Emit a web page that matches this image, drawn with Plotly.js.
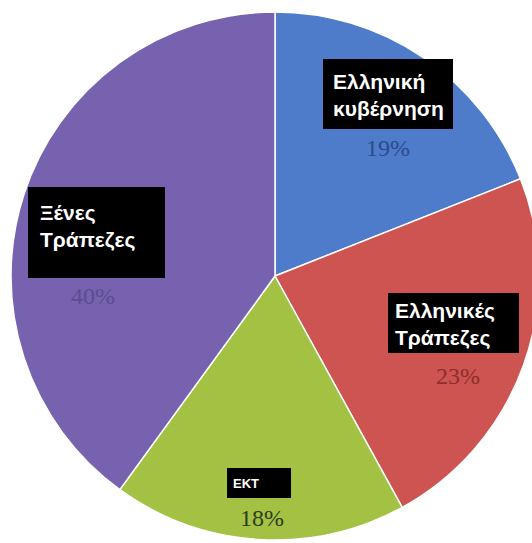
<!DOCTYPE html>
<html>
<head>
<meta charset="utf-8">
<script src="https://cdn.plot.ly/plotly-3.0.1.min.js"></script>
<style>
html,body{margin:0;padding:0;overflow:hidden;background:#fff;}
#chart{width:550px;height:543px;}
</style>
</head>
<body>
<div id="chart"></div>
<script>
var categories = ["Ελληνική<br>κυβέρνηση", "Ελληνικές<br>Τράπεζες", "ΕΚΤ", "Ξένες<br>Τράπεζες"];
var values = [19, 23, 18, 40];
var percentLabels = ["19%", "23%", "18%", "40%"];
var sliceColors = ["#4e7ccb", "#cd5450", "#a3c244", "#7662ae"];
var percentColors = ["#2c4a8c", "#8e2e2c", "#2f3b1c", "#5b4e8e"];

var W = 550, H = 543;
function px(x){ return x / W; }
function py(y){ return 1 - y / H; }

// layout-only positions for label boxes (pixel coords in page)
var boxes = [
  {x0:323, x1:453, y0:59, y1:129, tx:331, ty:95, size:21},
  {x0:388, x1:519, y0:293, y1:353, tx:393, ty:324, size:21},
  {x0:227, x1:291, y0:468, y1:498, tx:231, ty:483, size:13},
  {x0:28, x1:165, y0:187, y1:278, tx:38, ty:227, size:21}
];
var pctPos = [[388,148],[458,376],[262,518],[93,296]];

var shapes = [], annotations = [];
for (var i = 0; i < categories.length; i++) {
  var b = boxes[i];
  shapes.push({type:"rect", xref:"paper", yref:"paper",
    x0:px(b.x0), x1:px(b.x1), y0:py(b.y1), y1:py(b.y0),
    fillcolor:"#000", line:{width:0}});
  annotations.push({xref:"paper", yref:"paper", x:px(b.tx), y:py(b.ty),
    xanchor:"left", yanchor:"middle", align:"left", showarrow:false,
    text:"<b>"+categories[i]+"</b>",
    font:{family:"Liberation Sans, Arial, sans-serif", size:b.size, color:"#fff"}});
  annotations.push({xref:"paper", yref:"paper", x:px(pctPos[i][0]), y:py(pctPos[i][1]),
    xanchor:"center", yanchor:"middle", showarrow:false,
    text:percentLabels[i],
    font:{family:"Liberation Serif, Times New Roman, serif", size:24, color:percentColors[i]}});
}

var cx = 275, cy = 276, r = 264;
var data = [{
  type:"pie",
  labels:categories,
  values:values,
  sort:false,
  direction:"clockwise",
  rotation:0,
  textinfo:"none",
  hoverinfo:"none",
  marker:{colors:sliceColors, line:{color:"#ffffff", width:1.5}},
  domain:{x:[px(cx - r), px(cx + r)], y:[py(cy + r), py(cy - r)]}
}];

var layout = {
  width:W, height:H,
  margin:{l:0, r:0, t:0, b:0},
  showlegend:false,
  paper_bgcolor:"#fff",
  shapes:shapes,
  annotations:annotations
};
Plotly.newPlot("chart", data, layout, {displayModeBar:false, staticPlot:true});
</script>
</body>
</html>
